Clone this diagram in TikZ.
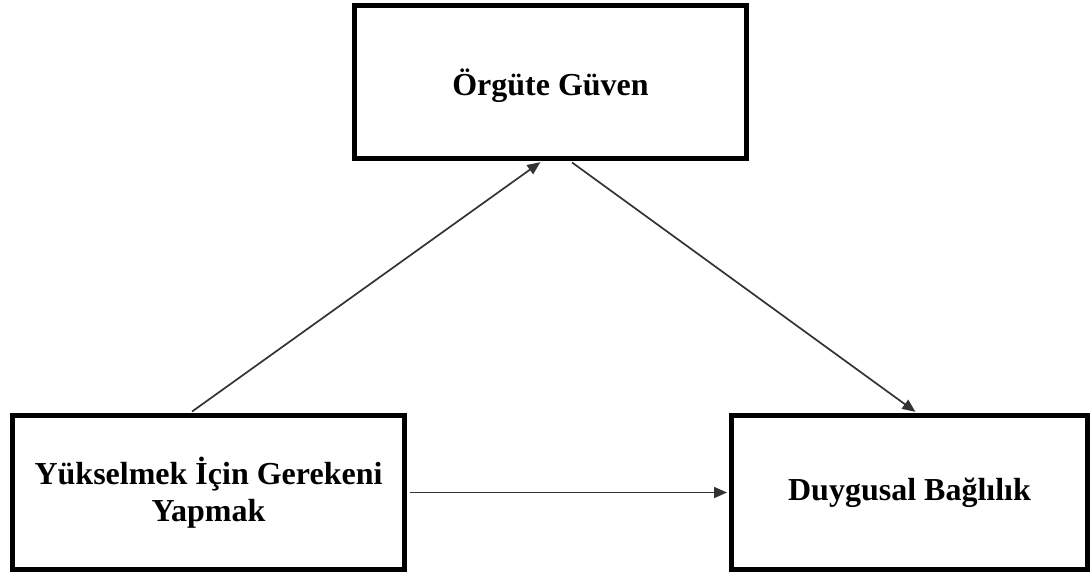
\documentclass[tikz,border=0pt]{standalone}
\usepackage{fontspec}
\setmainfont{Liberation Serif}
\usetikzlibrary{arrows.meta}
\begin{document}
\begin{tikzpicture}[x=1pt,y=-1pt,
  box/.style={draw=black, line width=5pt, fill=white, align=center,
    font=\fontsize{32}{37}\selectfont\bfseries, inner sep=0pt},
  arr/.style={draw=black!80, line width=1.7pt,
    -{Triangle[length=13pt,width=11pt]}, shorten >=2pt, shorten <=2.5pt}]
  \useasboundingbox (0,0) rectangle (1091,574);
  % three constructs of the mediation model
  \node[box, minimum width=392pt, minimum height=153pt, text depth=0pt] (trust) at (550.5,82) {Örgüte Güven};
  \node[box, minimum width=392pt, minimum height=154pt] (promo) at (208.5,492.5)
    {Yükselmek İçin Gerekeni\\Yapmak};
  \node[box, minimum width=356pt, minimum height=154pt] (commit) at (909.5,492.5) {Duygusal Bağlılık};
  % paths
  \draw[arr] ([xshift=-18.5pt]promo.north) -- ([xshift=-8.5pt]trust.south);
  \draw[arr] ([xshift=19.5pt]trust.south) -- ([xshift=7.5pt]commit.north);
  \draw[arr] (promo.east) -- (commit.west);
\end{tikzpicture}
\end{document}
